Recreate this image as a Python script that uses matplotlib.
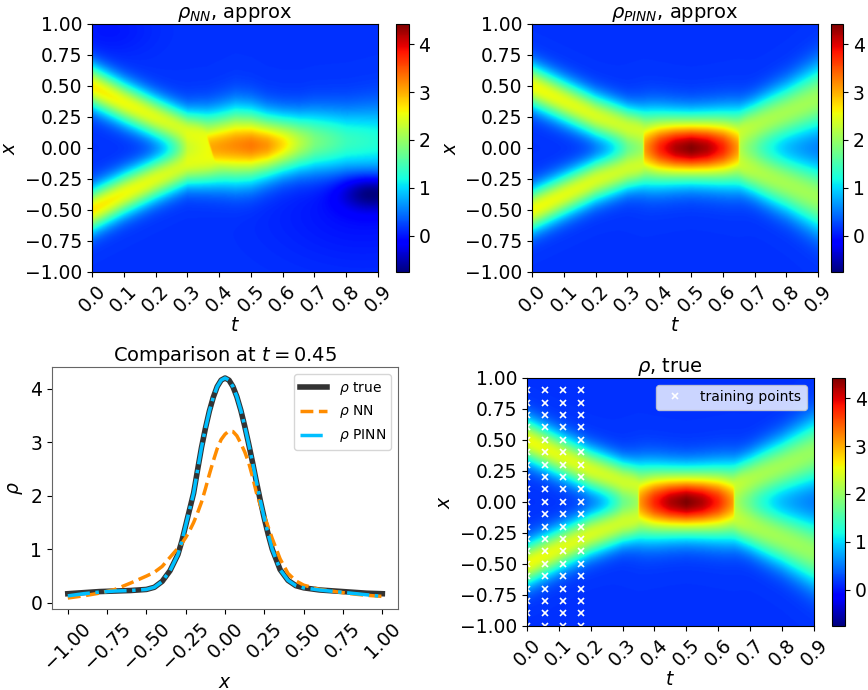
import numpy as np
import matplotlib.pyplot as plt

plt.rcParams['font.size'] = 13.5
plt.rcParams['axes.titlesize'] = 14

# ---- heat map parameters (ridge centre / amplitude / width against time) ----
t_knots = [0.0, 0.1, 0.2, 0.3, 0.35, 0.5, 0.65, 0.7, 0.8, 0.9]
base_level = 0.15

true_center = [0.50, 0.38, 0.26, 0.17, 0.15, 0.12, 0.15, 0.19, 0.29, 0.40]
true_amp = [2.40, 2.32, 2.25, 2.15, 2.10, 2.05, 2.00, 1.95, 1.90, 1.85]
true_width = [0.12, 0.12, 0.12, 0.12, 0.12, 0.125, 0.13, 0.14, 0.16, 0.19]

pinn_center = [0.50, 0.38, 0.26, 0.17, 0.15, 0.12, 0.15, 0.19, 0.29, 0.40]
pinn_amp = [2.42, 2.33, 2.25, 2.15, 2.10, 2.05, 2.00, 1.97, 1.93, 1.90]
pinn_width = [0.12, 0.12, 0.12, 0.12, 0.12, 0.125, 0.13, 0.14, 0.16, 0.19]

# merged pulse while the two ridges overlap
core_t = [0.35, 0.40, 0.45, 0.50, 0.55, 0.60, 0.65]
true_core_amp = [2.90, 3.60, 4.05, 4.28, 4.05, 3.60, 2.90]
true_core_width = [0.20, 0.185, 0.175, 0.17, 0.175, 0.185, 0.20]
pinn_core_amp = [2.90, 3.60, 4.05, 4.25, 4.05, 3.60, 2.90]
pinn_core_width = [0.20, 0.185, 0.175, 0.17, 0.175, 0.185, 0.20]

# NN: two ridges that close up by t ~ 0.36, then one pulse that fades out
nn_ridge_t = [0.0, 0.1, 0.2, 0.3, 0.37, 0.5, 0.9]
nn_center = [0.50, 0.37, 0.25, 0.14, 0.13, 0.10, 0.08]
nn_amp = [2.55, 2.42, 2.30, 2.15, 2.00, 1.60, 0.70]
nn_width = [0.12, 0.12, 0.12, 0.12, 0.13, 0.15, 0.17]
nn_pulse_t = [0.36, 0.45, 0.50, 0.55, 0.60, 0.65, 0.70, 0.80, 0.90]
nn_pulse_center = [0.00, 0.02, 0.02, 0.02, 0.03, 0.04, 0.05, 0.05, 0.05]
nn_pulse_amp = [2.85, 3.05, 3.15, 3.00, 2.60, 2.10, 1.70, 1.30, 1.15]
nn_pulse_width = [0.18, 0.20, 0.19, 0.17, 0.16, 0.16, 0.17, 0.18, 0.20]
nn_front_slope = -0.12   # onset of the pulse leans: later for negative x
# (t, x, amplitude, sigma_t, sigma_x) of the dips in the NN background
nn_dips = [(0.88, -0.36, -0.85, 0.07, 0.10),
           (0.85, -0.50, -0.20, 0.20, 0.30),
           (0.05, 0.95, -0.15, 0.10, 0.15)]

# ---- profiles at t = 0.45 ----
x_cut = [-1.0, -0.9, -0.8, -0.7, -0.6, -0.5, -0.45, -0.4, -0.35, -0.3, -0.275,
         -0.25, -0.225, -0.2, -0.175, -0.15, -0.125, -0.1, -0.075, -0.05, -0.025,
         0.0, 0.025, 0.05, 0.075, 0.1, 0.125, 0.15, 0.175, 0.2, 0.225, 0.25,
         0.275, 0.3, 0.35, 0.4, 0.45, 0.5, 0.6, 0.7, 0.8, 0.9, 1.0]
rho_true_cut = [0.17, 0.19, 0.21, 0.22, 0.23, 0.25, 0.29, 0.40, 0.60, 0.90, 1.15,
                1.45, 1.75, 2.05, 2.48, 2.90, 3.26, 3.58, 3.84, 4.04, 4.16,
                4.20, 4.16, 4.04, 3.85, 3.60, 3.30, 2.97, 2.62, 2.25, 1.90, 1.57,
                1.27, 1.00, 0.62, 0.42, 0.32, 0.28, 0.24, 0.22, 0.20, 0.18, 0.17]
rho_nn_cut = [0.09, 0.13, 0.18, 0.25, 0.37, 0.50, 0.57, 0.68, 0.85, 1.02, 1.11,
              1.22, 1.35, 1.50, 1.68, 1.88, 2.13, 2.40, 2.65, 2.88, 3.05,
              3.15, 3.21, 3.20, 3.12, 2.98, 2.82, 2.62, 2.35, 2.05, 1.82, 1.62,
              1.41, 1.20, 0.82, 0.55, 0.41, 0.33, 0.25, 0.21, 0.17, 0.14, 0.12]
rho_pinn_cut = [0.13, 0.17, 0.20, 0.22, 0.23, 0.25, 0.29, 0.40, 0.60, 0.90, 1.15,
                1.45, 1.75, 2.05, 2.48, 2.90, 3.26, 3.58, 3.84, 4.04, 4.16,
                4.20, 4.16, 4.04, 3.85, 3.60, 3.30, 2.97, 2.62, 2.25, 1.90, 1.57,
                1.27, 1.00, 0.62, 0.42, 0.32, 0.28, 0.24, 0.21, 0.18, 0.15, 0.12]

# training points: first four time levels, x on a 0.1 grid
train_t = [0.0, 0.05625, 0.1125, 0.16875]
train_x = [round(-1.0 + 0.1 * k, 2) for k in range(20)]

t_grid = np.linspace(0.0, 0.9, 451)
x_grid = np.linspace(-1.0, 1.0, 401)
T, X = np.meshgrid(t_grid, x_grid)


def gauss(x, c, w):
    return np.exp(-(x - c) ** 2 / (2 * w ** 2))


def switch(t0, soft=0.4):
    # sharp step in t near x = 0, softer further out so no seam shows in the tails
    width = 0.002 + soft * np.clip(np.abs(X) - 0.12, 0, None)
    return 0.5 * (1 + np.tanh((T - t0) / width))


def ridges(tk, center, amp, width):
    c = np.interp(T, tk, center)
    a = np.interp(T, tk, amp)
    w = np.interp(T, tk, width)
    return a * (gauss(X, c, w) + gauss(X, -c, w))


def crossing_field(center, amp, width, core_amp, core_width):
    outer = ridges(t_knots, center, amp, width)
    ca = np.interp(T, core_t, core_amp)
    cw = np.interp(T, core_t, core_width)
    core = ca * gauss(X, 0.0, cw)
    inside = switch(core_t[0], 0.15) * (1 - switch(core_t[-1], 0.15))
    return base_level + outer + inside * (core - outer)


def nn_field():
    outer = ridges(nn_ridge_t, nn_center, nn_amp, nn_width)
    pc = np.interp(T, nn_pulse_t, nn_pulse_center)
    pa = np.interp(T, nn_pulse_t, nn_pulse_amp)
    pw = np.interp(T, nn_pulse_t, nn_pulse_width)
    pulse = pa * gauss(X, pc, pw)
    onset = switch(nn_pulse_t[0] + 0.012 + nn_front_slope * X)
    rho = base_level + outer + onset * (pulse - outer)
    for t0, x0, amp, st, sx in nn_dips:
        rho = rho + amp * gauss(T, t0, st) * gauss(X, x0, sx)
    return rho


rho_true = crossing_field(true_center, true_amp, true_width, true_core_amp, true_core_width)
rho_pinn = crossing_field(pinn_center, pinn_amp, pinn_width, pinn_core_amp, pinn_core_width)
rho_nn = nn_field()

vmin = min(rho_true.min(), rho_pinn.min(), rho_nn.min())
vmax = max(rho_true.max(), rho_pinn.max(), rho_nn.max())

fig = plt.figure(figsize=(8.68, 6.9), dpi=100)


def heatmap(ax_rect, cbar_rect, rho, title):
    ax = fig.add_axes(ax_rect)
    im = ax.imshow(rho, origin='lower', extent=[0, 0.9, -1, 1], aspect='auto',
                   cmap='jet', vmin=vmin, vmax=vmax, interpolation='bilinear')
    ticks = np.round(np.arange(0, 0.91, 0.1), 1)
    ax.set_xticks(ticks)
    ax.set_xticklabels(['%.1f' % v for v in ticks], rotation=45)
    ax.set_yticks(np.arange(-1, 1.01, 0.25))
    ax.set_xlabel('$t$', labelpad=0)
    ax.set_ylabel('$x$')
    ax.set_title(title, pad=2)
    cax = fig.add_axes(cbar_rect)
    cb = fig.colorbar(im, cax=cax)
    cb.set_ticks([0, 1, 2, 3, 4])
    return ax


heatmap([0.106, 0.606, 0.3295, 0.3594], [0.456, 0.606, 0.015, 0.3594],
        rho_nn, r'$\rho_{NN}$, approx')
heatmap([0.613, 0.606, 0.3295, 0.3594], [0.9575, 0.606, 0.014, 0.3594],
        rho_pinn, r'$\rho_{PINN}$, approx')
ax_true = heatmap([0.607, 0.093, 0.3306, 0.3594], [0.9585, 0.093, 0.015, 0.3594],
                  rho_true, r'$\rho$, true')

tt, xx = np.meshgrid(train_t, train_x)
ax_true.plot(tt.ravel(), xx.ravel(), 'x', color='white', ms=4, mew=1.2,
             label='training points')
ax_true.set_xlim(0, 0.9)
ax_true.set_ylim(-1, 1)
ax_true.legend(loc='upper right', fontsize=10)

# profile comparison
ax = fig.add_axes([0.06, 0.1174, 0.3986, 0.3507])
ax.plot(x_cut, rho_true_cut, color='#333333', lw=4, label=r'$\rho$ true')
ax.plot(x_cut, rho_nn_cut, '--', color='darkorange', lw=2.5, label=r'$\rho$ NN')
ax.plot(x_cut, rho_pinn_cut, '-.', color='deepskyblue', lw=2.5, label=r'$\rho$ PINN')
xt = np.arange(-1, 1.01, 0.25)
ax.set_xticks(xt)
ax.set_xticklabels([('%.2f' % v).replace('-', '\u2212') for v in xt], rotation=45)
ax.set_xlabel('$x$', labelpad=0)
ax.set_ylabel(r'$\rho$')
ax.set_title('Comparison at $t = 0.45$', pad=4)
for sp in ax.spines.values():
    sp.set_color('#666666')
ax.legend(loc='upper right', fontsize=10)

fig.savefig('out.png', dpi=100)
